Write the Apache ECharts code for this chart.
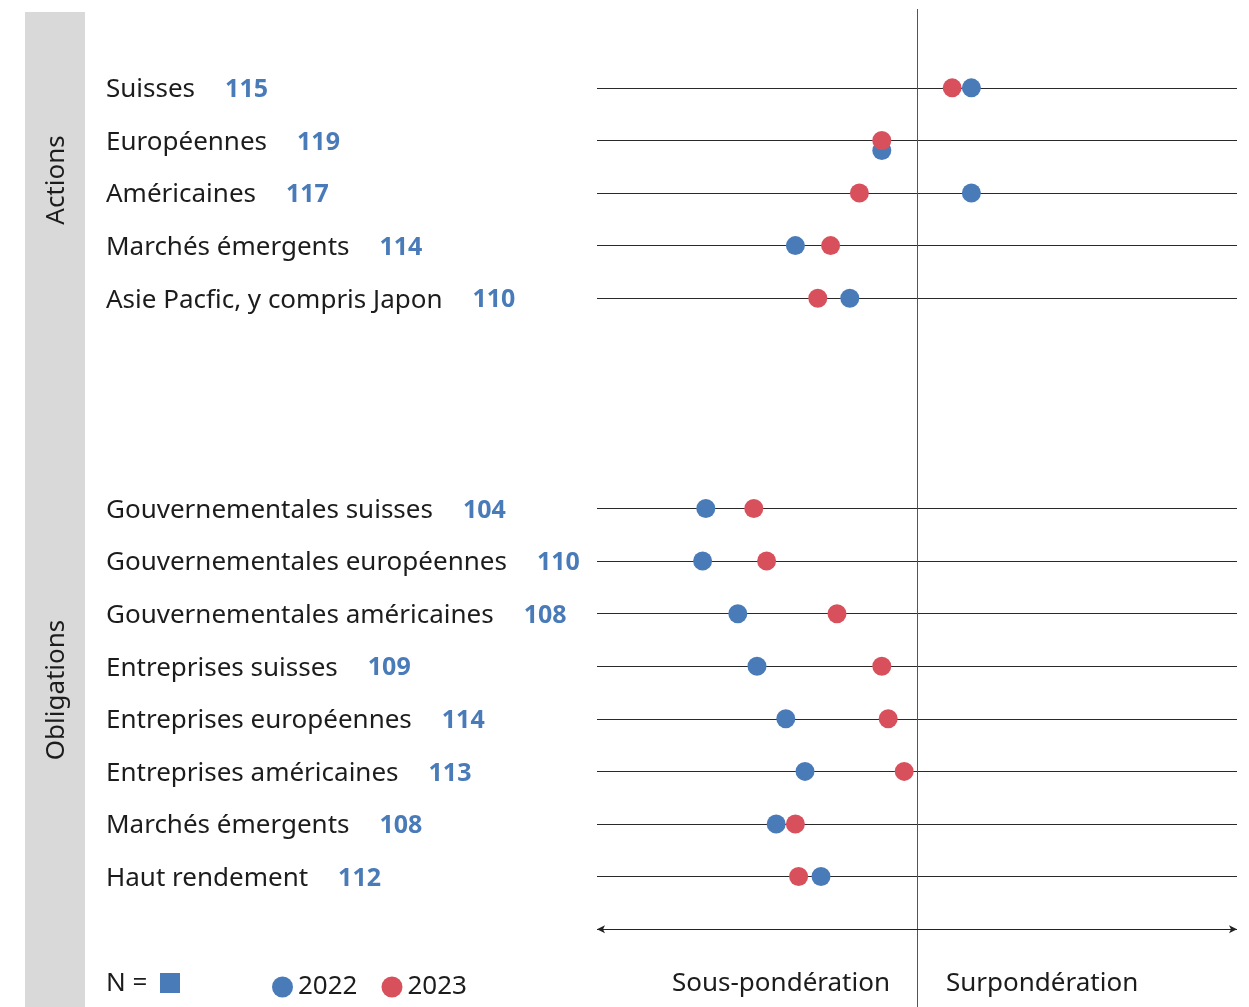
<!DOCTYPE html>
<html>
<head>
<meta charset="utf-8">
<script src="https://cdn.jsdelivr.net/npm/echarts@6/dist/echarts.min.js"></script>
<style>
html,body{margin:0;padding:0;background:#fff;}
#chart{width:1249px;height:1007px;}
</style>
</head>
<body>
<div id="chart"></div>
<script>
// Actions
var actionsLabels=['Suisses','Européennes','Américaines','Marchés émergents','Asie Pacfic, y compris Japon'];
var actionsN=[115,119,117,114,110];
var actions2022=[0.17,-0.11,0.17,-0.38,-0.21];
var actions2023=[0.11,-0.11,-0.18,-0.27,-0.31];
// Obligations
var obligLabels=['Gouvernementales suisses','Gouvernementales européennes','Gouvernementales américaines','Entreprises suisses','Entreprises européennes','Entreprises américaines','Marchés émergents','Haut rendement'];
var obligN=[104,110,108,109,114,113,108,112];
var oblig2022=[-0.66,-0.67,-0.56,-0.50,-0.41,-0.35,-0.44,-0.30];
var oblig2023=[-0.51,-0.47,-0.25,-0.11,-0.09,-0.04,-0.38,-0.37];
var years=['2022','2023'];

var BLUE='#4a7bb9';
var RED='#d9505d';
var TXT='#1c1c1c';
var FONT='Noto Sans';

// category keys: blank rows around the two groups
var cats=['top'];
var labelOf={},nOf={};
actionsLabels.forEach(function(l,i){cats.push('a'+i);labelOf['a'+i]=l;nOf['a'+i]=actionsN[i];});
cats.push('g1','g2','g3');
obligLabels.forEach(function(l,i){cats.push('o'+i);labelOf['o'+i]=l;nOf['o'+i]=obligN[i];});
cats.push('arrow','bottom');

var rows=cats.filter(function(c){return labelOf[c]});
var d2022=[],d2023=[];
actions2022.forEach(function(v,i){
    var item={value:[v,'a'+i]};
    // overlapping point shifted down as in source
    if(i==1)item.symbolOffset=[0,10];
    d2022.push(item);
    d2023.push({value:[actions2023[i],'a'+i]});
});
oblig2022.forEach(function(v,i){
    d2022.push({value:[v,'o'+i]});
    d2023.push({value:[oblig2023[i],'o'+i]});
});

var rowLines=rows.map(function(r){return {yAxis:r}});

var myChart=echarts.init(document.getElementById('chart'));
var option={
    animation:false,
    textStyle:{fontFamily:FONT},
    grid:{left:597,width:640,top:9,height:999,outerBoundsMode:'none',containLabel:false},
    xAxis:{type:'value',min:-1,max:1,show:false},
    yAxis:{
        type:'category',
        data:cats,
        inverse:true,
        axisLine:{show:false,onZero:false},
        axisTick:{show:false},
        splitLine:{show:false},
        axisLabel:{
            interval:0,
            inside:true,
            margin:-491,
            formatter:function(v){
                if(!labelOf[v])return '';
                return '{n|'+labelOf[v]+'}{v|'+nOf[v]+'}';
            },
            rich:{
                n:{fontSize:26,color:TXT,fontFamily:FONT,padding:[4,0,0,0]},
                v:{fontSize:25,color:BLUE,fontWeight:'bold',fontFamily:FONT,padding:[4,0,0,30]}
            }
        }
    },
    legend:{
        data:years,
        icon:'circle',
        left:267,
        top:969,
        itemWidth:21,
        itemHeight:21,
        itemGap:24,
        textStyle:{fontSize:26,color:TXT,fontFamily:FONT}
    },
    series:[
        {
            name:'2022',
            type:'scatter',
            symbolSize:19,
            itemStyle:{color:BLUE,opacity:1},
            data:d2022,
            z:3,
            markLine:{
                silent:true,
                z:1,
                symbol:'none',
                label:{show:false},
                lineStyle:{type:'solid',color:'#2a2a2a',width:1},
                data:rowLines.concat([{xAxis:0,lineStyle:{color:'#555'}}])
            }
        },
        {
            name:'2023',
            type:'scatter',
            symbolSize:19,
            itemStyle:{color:RED,opacity:1},
            data:d2023,
            z:4,
            markLine:{
                silent:true,
                z:1,
                symbol:['arrow','arrow'],
                symbolSize:[6,8],
                label:{show:false},
                lineStyle:{type:'solid',color:'#222',width:1},
                data:[{yAxis:'arrow'}]
            }
        }
    ],
    graphic:[
        {type:'rect',shape:{x:25,y:12,width:60,height:995},style:{fill:'#d9d9d9'},z:-1},
        {type:'text',x:57,y:180,rotation:Math.PI/2,style:{text:'Actions',fontSize:26,fill:TXT,fontFamily:FONT,align:'center',verticalAlign:'middle'}},
        {type:'text',x:57,y:690,rotation:Math.PI/2,style:{text:'Obligations',fontSize:26,fill:TXT,fontFamily:FONT,align:'center',verticalAlign:'middle'}},
        {type:'text',x:106,y:984,style:{text:'N =',fontSize:26,fill:TXT,fontFamily:FONT,verticalAlign:'middle'}},
        {type:'rect',shape:{x:160,y:973,width:20,height:20},style:{fill:BLUE}},
        {type:'text',x:890,y:984,style:{text:'Sous-pondération',fontSize:26,fill:TXT,fontFamily:FONT,align:'right',verticalAlign:'middle'}},
        {type:'text',x:946,y:984,style:{text:'Surpondération',fontSize:26,fill:TXT,fontFamily:FONT,align:'left',verticalAlign:'middle'}}
    ]
};
myChart.setOption(option);
</script>
</body>
</html>
